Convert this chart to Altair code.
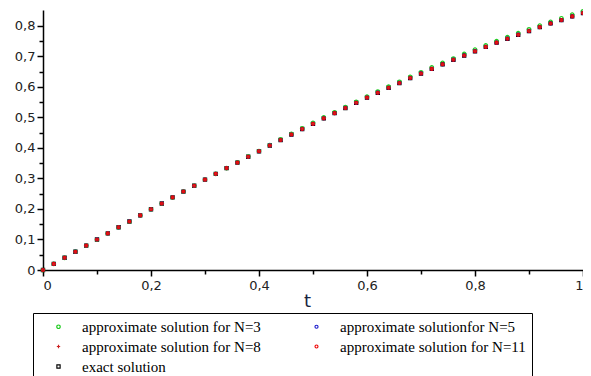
import altair as alt
import pandas as pd

t_values = [0.00, 0.02, 0.04, 0.06, 0.08, 0.10, 0.12, 0.14, 0.16, 0.18,
            0.20, 0.22, 0.24, 0.26, 0.28, 0.30, 0.32, 0.34, 0.36, 0.38,
            0.40, 0.42, 0.44, 0.46, 0.48, 0.50, 0.52, 0.54, 0.56, 0.58,
            0.60, 0.62, 0.64, 0.66, 0.68, 0.70, 0.72, 0.74, 0.76, 0.78,
            0.80, 0.82, 0.84, 0.86, 0.88, 0.90, 0.92, 0.94, 0.96, 0.98, 1.00]

exact = [0.000, 0.020, 0.040, 0.060, 0.080, 0.100, 0.120, 0.140, 0.159, 0.179,
         0.199, 0.218, 0.238, 0.257, 0.276, 0.296, 0.315, 0.334, 0.352, 0.371,
         0.389, 0.408, 0.426, 0.444, 0.462, 0.479, 0.497, 0.514, 0.531, 0.548,
         0.565, 0.581, 0.597, 0.613, 0.629, 0.644, 0.659, 0.674, 0.689, 0.703,
         0.717, 0.731, 0.745, 0.758, 0.771, 0.783, 0.796, 0.808, 0.819, 0.831, 0.842]

approx_n3 = [0.000, 0.020, 0.040, 0.060, 0.080, 0.100, 0.120, 0.140, 0.159, 0.179,
             0.199, 0.218, 0.238, 0.257, 0.276, 0.296, 0.315, 0.334, 0.353, 0.372,
             0.390, 0.409, 0.428, 0.446, 0.464, 0.482, 0.500, 0.517, 0.534, 0.551,
             0.568, 0.585, 0.601, 0.617, 0.633, 0.648, 0.664, 0.679, 0.693, 0.708,
             0.722, 0.736, 0.750, 0.763, 0.776, 0.789, 0.801, 0.813, 0.825, 0.837, 0.848]

approx_n5 = [0.000, 0.020, 0.040, 0.060, 0.080, 0.100, 0.120, 0.140, 0.159, 0.179,
             0.199, 0.218, 0.238, 0.257, 0.276, 0.296, 0.315, 0.334, 0.352, 0.371,
             0.389, 0.408, 0.426, 0.444, 0.462, 0.479, 0.497, 0.514, 0.531, 0.548,
             0.565, 0.581, 0.597, 0.613, 0.629, 0.644, 0.659, 0.674, 0.689, 0.703,
             0.717, 0.731, 0.745, 0.758, 0.771, 0.783, 0.796, 0.808, 0.819, 0.831, 0.842]

approx_n8 = list(approx_n5)
approx_n11 = list(approx_n5)

# legend fills column by column: column 1 = N=3, N=8, exact ; column 2 = N=5, N=11
series_names = ["approximate solution for N=3", "approximate solution for N=8",
                "exact solution", "approximate solutionfor N=5",
                "approximate solution for N=11"]
series_colors = ["#22cc22", "#cc2020", "#000000", "#1a1acc", "#ee0000"]
series_shapes = ["circle", "M-1,0L1,0M0,-1L0,1", "square", "circle", "circle"]
series_sizes = [12, 9, 32, 8, 1]
series_strokes = [1.2, 1.1, 2.0, 1.1, 1.5]

# draw order: exact first, then approximations on top
draw_order = [
    ("exact solution", exact),
    ("approximate solution for N=3", approx_n3),
    ("approximate solutionfor N=5", approx_n5),
    ("approximate solution for N=8", approx_n8),
    ("approximate solution for N=11", approx_n11),
]
rows = []
for name, vals in draw_order:
    for t, v in zip(t_values, vals):
        rows.append({"t": t, "y": v, "series": name})
df = pd.DataFrame(rows)

x_ticks = [0.0, 0.1, 0.2, 0.3, 0.4, 0.5, 0.6, 0.7, 0.8, 0.9, 1.0]
y_ticks = [0.0, 0.05, 0.1, 0.15, 0.2, 0.25, 0.3, 0.35, 0.4, 0.45,
           0.5, 0.55, 0.6, 0.65, 0.7, 0.75, 0.8]

x_minor = "round(datum.value*10) % 2 == 1"
y_minor = "round(datum.value*20) % 2 == 1"

legend = alt.Legend(
    title=None, orient="none", legendX=-10, legendY=303, columns=2,
    strokeColor="black", padding=6, symbolOffset=12,
    labelFont="Liberation Serif", labelFontSize=15, labelColor="black",
    rowPadding=4, columnPadding=36, labelOffset=16, labelLimit=400,
    fillColor="white",
)

chart = alt.Chart(df).mark_point(filled=False, opacity=1).encode(
    x=alt.X("t:Q", scale=alt.Scale(domain=[0, 1], nice=False),
            axis=alt.Axis(
                values=x_ticks, title="t", grid=False,
                labelExpr=f"{x_minor} ? '' : replace(format(datum.value, '~g'), '.', ',')",
                tickSize={"condition": {"test": x_minor, "value": 4}, "value": 6},
                labelFont="DejaVu Sans", labelFontSize=13, labelColor="#222222",
                labelPadding=3, domainColor="black", domainWidth=1.5,
                tickColor="black", tickWidth=1.5,
                titleFont="DejaVu Sans", titleFontSize=18, titleFontWeight="normal",
                titleColor="#1a2440", titlePadding=0, titleX=264,
            )),
    y=alt.Y("y:Q", scale=alt.Scale(domain=[0, 0.852], nice=False),
            axis=alt.Axis(
                values=y_ticks, title=None, grid=False,
                labelExpr=f"{y_minor} ? '' : replace(format(datum.value, '~g'), '.', ',')",
                tickSize={"condition": {"test": y_minor, "value": 4}, "value": 6},
                labelFont="DejaVu Sans", labelFontSize=13, labelColor="#222222",
                labelPadding=2, domainColor="black", domainWidth=1.5,
                tickColor="black", tickWidth=1.5,
            )),
    color=alt.Color("series:N", scale=alt.Scale(domain=series_names, range=series_colors), legend=legend),
    shape=alt.Shape("series:N", scale=alt.Scale(domain=series_names, range=series_shapes), legend=legend),
    size=alt.Size("series:N", scale=alt.Scale(domain=series_names, range=series_sizes), legend=legend),
    strokeWidth=alt.StrokeWidth("series:N", scale=alt.Scale(domain=series_names, range=series_strokes), legend=legend),
).properties(
    width=540, height=260,
    autosize=alt.AutoSizeParams(type="none"),
    padding={"left": 35, "top": 2, "right": 0, "bottom": 108},
).configure_view(stroke=None)

chart.save("out.html", embed_options={"renderer": "svg", "actions": False})
